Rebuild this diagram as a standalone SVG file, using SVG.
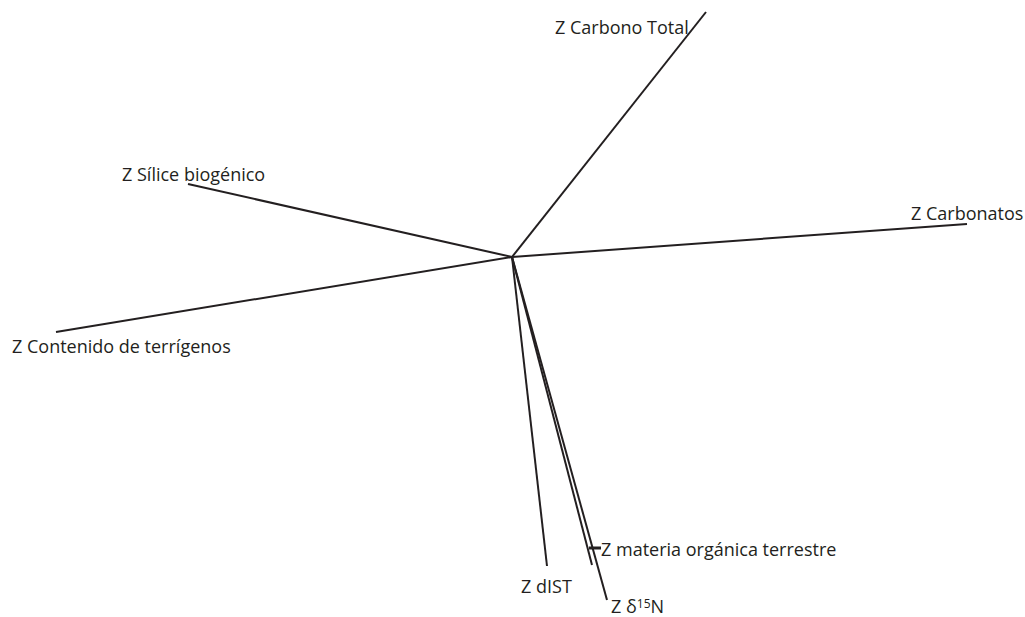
<svg xmlns="http://www.w3.org/2000/svg" width="1025" height="617" viewBox="0 0 1025 617">
<style>
.t{font-family:"Open Sans","Liberation Sans",sans-serif;font-size:18px;fill:#231f20}
.l{stroke:#231f20;stroke-width:2;fill:none}
</style>
<rect width="1025" height="617" fill="#fff"/>
<g id="connectors">
<line class="l" x1="512" y1="257" x2="706" y2="12"/>
<line class="l" x1="512" y1="257" x2="967" y2="224"/>
<line class="l" x1="512" y1="257" x2="188" y2="184"/>
<line class="l" x1="512" y1="257" x2="56" y2="332"/>
<line class="l" x1="512" y1="257" x2="547" y2="566"/>
<line class="l" x1="512" y1="257" x2="592" y2="565"/>
<line class="l" x1="512" y1="257" x2="607" y2="600"/>
<line stroke="#231f20" stroke-width="3" x1="589" y1="548" x2="601" y2="548"/>
</g>
<g id="n-carbono"><text class="t" x="555" y="34">Z Carbono Total</text></g>
<g id="n-silice"><text class="t" x="122" y="181">Z Sílice biogénico</text></g>
<g id="n-carbonatos"><text class="t" x="911" y="220">Z Carbonatos</text></g>
<g id="n-contenido"><text class="t" x="12" y="353">Z Contenido de terrígenos</text></g>
<g id="n-dist"><text class="t" x="521" y="593">Z dIST</text></g>
<g id="n-materia"><text class="t" x="601" y="556">Z materia orgánica terrestre</text></g>
<g id="n-n15"><text class="t" x="611" y="613">Z δ<tspan font-size="12" dy="-5">15</tspan><tspan dy="5">N</tspan></text></g>
</svg>
